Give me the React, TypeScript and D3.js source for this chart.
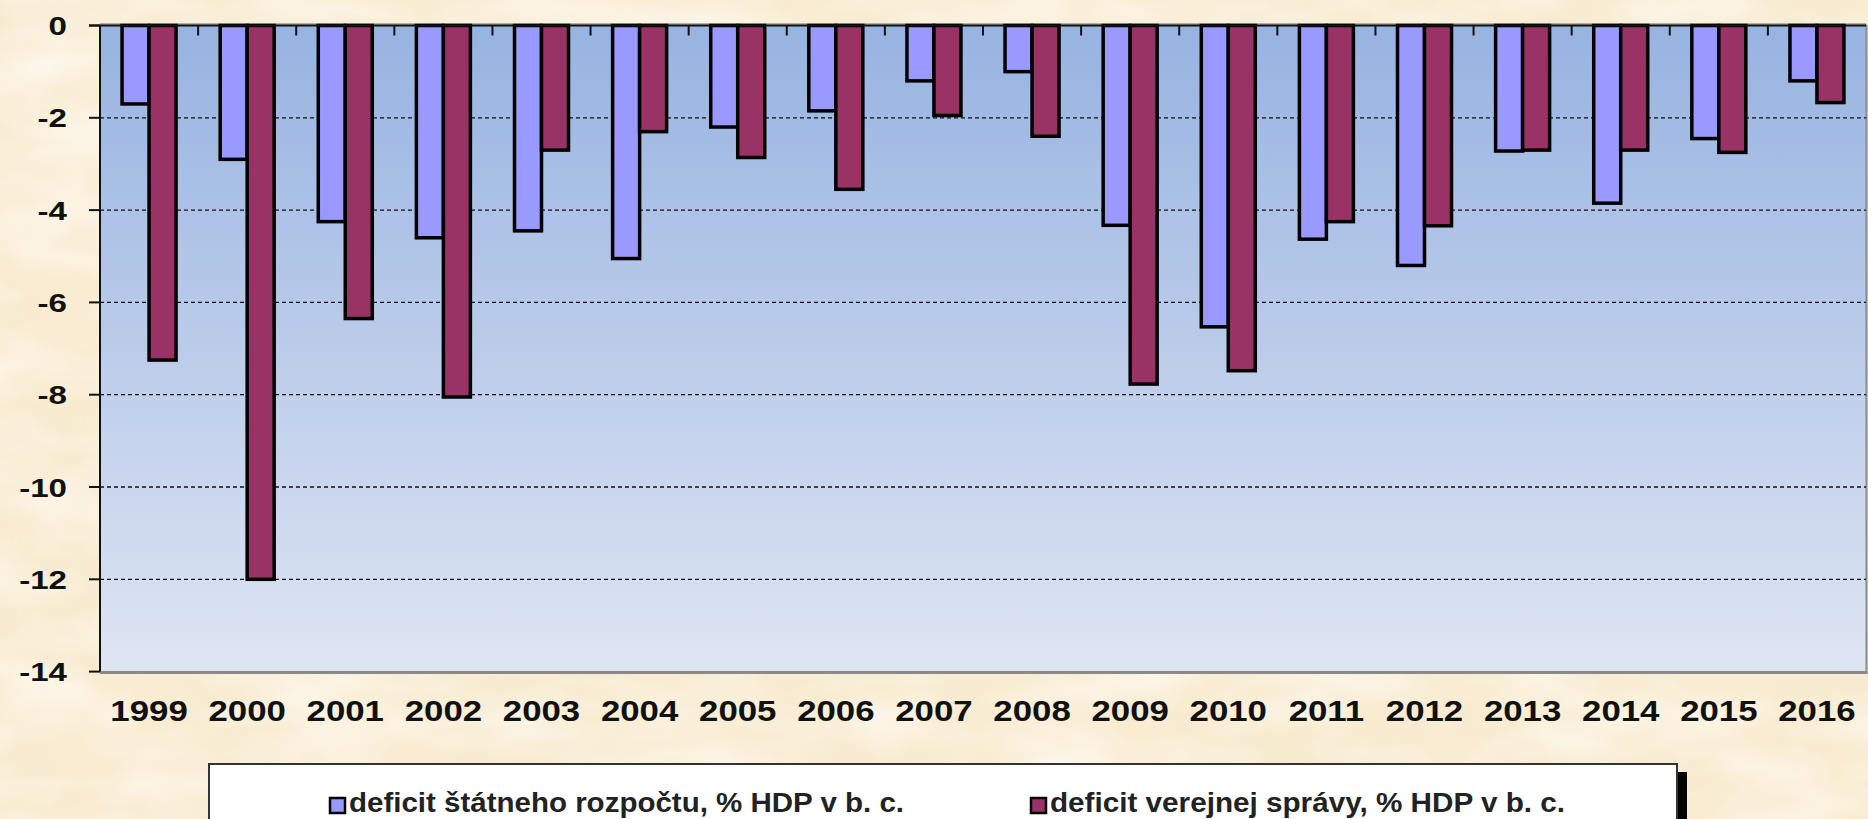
import React from "react";
import * as d3 from "d3";

const years = ["1999","2000","2001","2002","2003","2004","2005","2006","2007","2008","2009","2010","2011","2012","2013","2014","2015","2016"];
const stateBudget = [-1.7,-2.9,-4.25,-4.6,-4.45,-5.05,-2.2,-1.85,-1.2,-1.0,-4.33,-6.53,-4.63,-5.2,-2.72,-3.85,-2.45,-1.2];
const publicAdmin = [-7.25,-12.0,-6.35,-8.05,-2.7,-2.3,-2.86,-3.55,-1.95,-2.4,-7.77,-7.48,-4.25,-4.34,-2.7,-2.7,-2.75,-1.67];
const yTicks = [0,-2,-4,-6,-8,-10,-12,-14];
const seriesNames = ["deficit štátneho rozpočtu, % HDP v b. c.", "deficit verejnej správy, % HDP v b. c."];
const seriesColors = ["#9999ff", "#993366"];

export default function App() {
  const W = 1868, H = 819;
  const left = 100, right = 1866, top = 25.5, bottom = 671.6;
  const x0 = d3.scaleBand<string>().domain(years).range([left, right]).padding(0);
  const bw = x0.bandwidth();
  const x1 = d3.scaleBand<string>().domain(["s0", "s1"]).range([bw / 2 - 27, bw / 2 + 27]).padding(0);
  const y = d3.scaleLinear().domain([0, -14]).range([top, bottom]);
  const series = [stateBudget, publicAdmin];
  const font = "Arial, 'Liberation Sans', sans-serif";

  return (
    <svg width={W} height={H} style={{ position: "absolute", left: 0, top: 0 }} fontFamily={font}>
      <defs>
        <linearGradient id="plotGrad" x1="0" y1="0" x2="0" y2="1">
          <stop offset="0" stopColor="#97b3e1" />
          <stop offset="1" stopColor="#dfe5f3" />
        </linearGradient>
        <filter id="parch" x="0" y="0" width="100%" height="100%">
          <feTurbulence type="fractalNoise" baseFrequency="0.005 0.01" numOctaves="5" seed="11" result="n" />
          <feColorMatrix in="n" type="matrix"
            values="0 0 0 0 0.92  0 0 0 0 0.82  0 0 0 0 0.62  0 0 0 1.8 -0.72" result="c" />
          <feComposite in="c" in2="SourceGraphic" operator="in" />
        </filter>
        <filter id="parch2" x="0" y="0" width="100%" height="100%">
          <feTurbulence type="fractalNoise" baseFrequency="0.008 0.02" numOctaves="3" seed="3" result="n" />
          <feColorMatrix in="n" type="matrix"
            values="0 0 0 0 1  0 0 0 0 0.98  0 0 0 0 0.93  0 0 0 1.6 -0.6" result="c" />
          <feComposite in="c" in2="SourceGraphic" operator="in" />
        </filter>
      </defs>
      <rect x={0} y={0} width={W} height={H} fill="#f9ecd3" />
      <rect x={0} y={0} width={W} height={H} fill="#fff" filter="url(#parch)" opacity={0.9} />
      <rect x={0} y={0} width={W} height={H} fill="#fff" filter="url(#parch2)" opacity={0.8} />

      {/* plot area */}
      <rect x={left} y={top} width={right - left} height={bottom - top} fill="url(#plotGrad)" />
      <line x1={left} x2={right + 1.5} y1={bottom + 1} y2={bottom + 1} stroke="#8a8a8a" strokeWidth={3} />
      <line x1={right + 0.5} x2={right + 0.5} y1={top - 1} y2={bottom + 2} stroke="#8a8a8a" strokeWidth={2} />
      <line x1={left} x2={right} y1={top - 1.5} y2={top - 1.5} stroke="#9a9a9a" strokeWidth={1.5} />

      {/* gridlines */}
      {yTicks.filter(t => t !== 0 && t !== -14).map(t => (
        <line key={t} x1={left} x2={right} y1={y(t)} y2={y(t)} stroke="#111" strokeWidth={1.3} strokeDasharray="4 3" />
      ))}

      {/* bars */}
      {years.map((yr, i) => (
        <g key={yr} transform={`translate(${x0(yr)},0)`}>
          {series.map((s, j) => (
            <rect key={j} x={x1("s" + j)} y={y(0)} width={x1.bandwidth()} height={y(s[i]) - y(0)}
              fill={seriesColors[j]} stroke="#000" strokeWidth={3.5} />
          ))}
        </g>
      ))}

      {/* axes */}
      <line x1={left - 11} x2={right} y1={top} y2={top} stroke="#111" strokeWidth={2} />
      <line x1={left} x2={left} y1={top} y2={bottom} stroke="#111" strokeWidth={2} />
      {yTicks.map(t => (
        <g key={t}>
          <line x1={left - 11} x2={left} y1={y(t)} y2={y(t)} stroke="#111" strokeWidth={2} />
          <text transform={`translate(67,${y(t) + 9.5}) scale(1.25,1)`} textAnchor="end" fontSize={26.5} fontWeight="bold" fill="#111">{t}</text>
        </g>
      ))}
      {years.slice(1).map(yr => (
        <line key={yr} x1={x0(yr)} x2={x0(yr)} y1={top} y2={top + 10} stroke="#111" strokeWidth={2} />
      ))}
      {years.map(yr => (
        <text key={yr} transform={`translate(${(x0(yr) as number) + bw / 2},721) scale(1.2,1)`} textAnchor="middle"
          fontSize={29} fontWeight="bold" fill="#111">{yr}</text>
      ))}

      {/* legend */}
      <rect x={219} y={772} width={1468} height={80} fill="#000" />
      <rect x={209} y={764} width={1468} height={80} fill="#fff" stroke="#333" strokeWidth={2} />
      {seriesNames.map((nm, j) => {
        const sx = j === 0 ? 330 : 1031;
        const tl = j === 0 ? 555 : 515;
        return (
          <g key={nm}>
            <rect x={sx} y={798} width={15} height={15} fill={seriesColors[j]} stroke="#000" strokeWidth={2.5} />
            <text x={sx + 19} y={812} fontSize={27} fontWeight="bold" fill="#222" textLength={tl} lengthAdjust="spacingAndGlyphs">{nm}</text>
          </g>
        );
      })}
    </svg>
  );
}
